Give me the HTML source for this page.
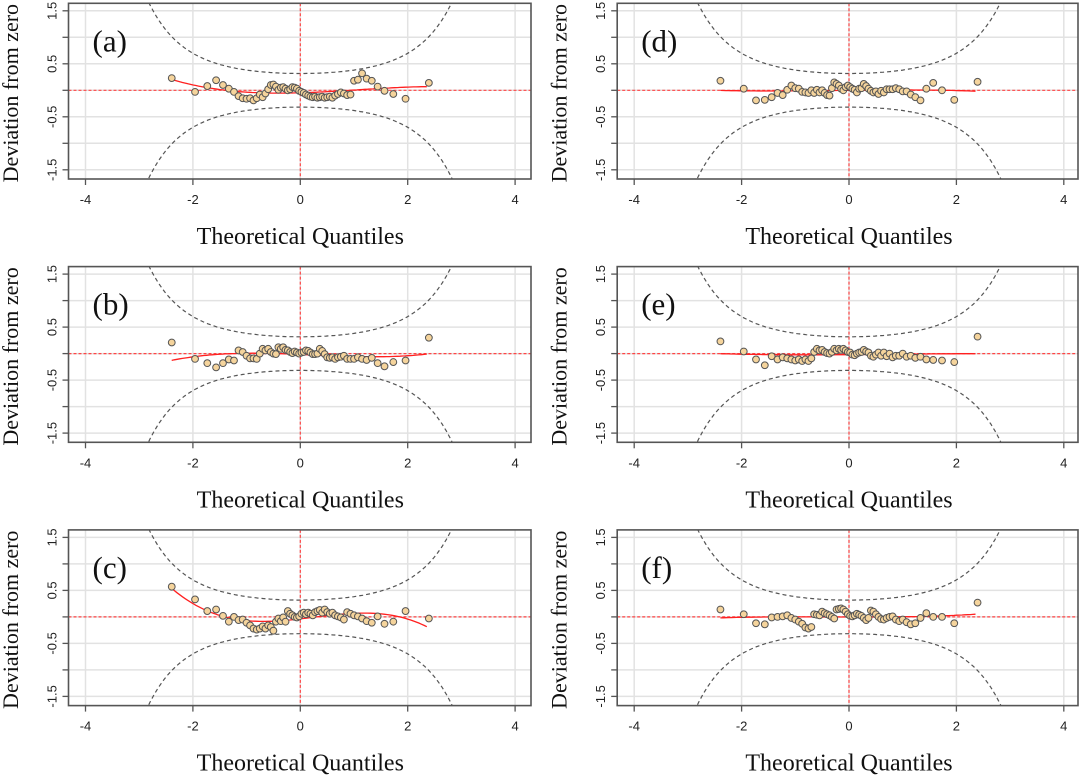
<!DOCTYPE html>
<html><head><meta charset="utf-8">
<style>
html,body{margin:0;padding:0;background:#fff;}
svg{display:block;}
</style></head>
<body>
<svg id="chart" width="1080" height="779" viewBox="0 0 1080 779" xmlns="http://www.w3.org/2000/svg"></svg>
<script>
// theoretical quantiles (n=60)
const qLeft = [-2.394,-1.960,-1.732,-1.568,-1.440,-1.331,-1.235,-1.150,-1.073,-1.001,-0.935,-0.872,-0.812,-0.755,-0.701,-0.649,-0.598,-0.549,-0.501,-0.454,-0.408,-0.363,-0.319,-0.275,-0.232,-0.189,-0.147,-0.105,-0.063,-0.021];
const panelLabels = ["(a)","(b)","(c)","(d)","(e)","(f)"];
const xTicks = [-4,-2,0,2,4];
const yGrid = [1.5,1,0.5,0,-0.5,-1,-1.5];
const yTickLabels = [1.5,0.5,-0.5,-1.5];
const devA = [0.23,-0.03,0.08,0.19,0.10,0.03,-0.03,-0.11,-0.15,-0.16,-0.15,-0.19,-0.15,-0.08,-0.13,-0.06,0.02,0.10,0.11,0.07,0.01,0.05,0.06,0.03,0.00,0.02,0.06,0.05,0.03,-0.01,
  -0.03,-0.05,-0.08,-0.10,-0.12,-0.13,-0.12,-0.14,-0.13,-0.12,-0.14,-0.13,-0.12,-0.14,-0.10,-0.07,-0.04,-0.06,-0.09,-0.08,0.18,0.20,0.32,0.22,0.18,0.07,-0.01,-0.07,-0.16,0.14];
const devB = [0.21,-0.10,-0.18,-0.26,-0.18,-0.11,-0.13,0.06,0.03,-0.04,-0.09,-0.09,-0.10,0,0.09,0.06,0.09,0.03,0,-0.01,0.12,0.09,0.12,0.07,0.06,0.03,0.01,0.04,0.02,0,
  0.02,0.03,0.06,0.05,0.02,-0.01,-0.01,0,0.09,0.05,-0.01,-0.07,-0.08,-0.07,-0.10,-0.07,-0.06,-0.04,-0.10,-0.10,-0.10,-0.07,-0.10,-0.12,-0.08,-0.18,-0.24,-0.16,-0.13,0.30];
const devC = [0.57,0.33,0.11,0.14,0.02,-0.09,0,-0.06,-0.05,-0.11,-0.16,-0.22,-0.24,-0.22,-0.18,-0.22,-0.16,-0.19,-0.26,-0.09,-0.03,-0.08,-0.01,-0.09,0.11,0.06,0.03,0,-0.01,0.01,
  0.06,0.08,0.05,0.08,0.06,0.03,0.09,0.11,0.13,0.08,0.14,0.09,0.06,0.08,0.03,0.01,-0.01,-0.05,0.09,0.06,0.03,0.01,-0.03,-0.08,-0.11,0.01,-0.13,-0.09,0.11,-0.03];
const devD = [0.18,0.03,-0.19,-0.18,-0.13,-0.05,-0.09,0.01,0.09,0.04,0.03,-0.03,-0.04,-0.05,0,-0.05,0.01,-0.04,0,-0.05,-0.09,-0.10,0.04,0.15,0.12,0.09,0.03,0,0.06,0.09,
  0.06,0.03,0.01,-0.04,0.03,0.04,0.12,0.08,0.03,-0.01,-0.04,-0.02,-0.07,-0.01,-0.04,0.02,0.02,0.02,0.04,0.02,-0.02,-0.02,-0.08,-0.13,-0.19,0.03,0.14,0.0,-0.18,0.16];
const devE = [0.23,0.04,-0.11,-0.22,-0.05,-0.11,-0.07,-0.09,-0.11,-0.13,-0.11,-0.14,-0.11,-0.14,-0.09,0.03,0.09,0.06,0.07,0.03,0.01,0,0.03,0.09,0.06,0.09,0.07,0.09,0.06,0.03,
  0.02,-0.02,-0.03,0.0,0.02,0.03,0.07,0.04,0.02,-0.04,-0.06,-0.02,0.02,-0.04,0.02,-0.05,0,-0.07,-0.04,-0.04,0,-0.06,-0.04,-0.08,-0.06,-0.11,-0.12,-0.13,-0.16,0.32];
const devF = [0.14,0.05,-0.12,-0.14,-0.01,0,0.01,0.03,-0.02,-0.05,-0.09,-0.13,-0.20,-0.22,-0.19,0.05,0.04,0.03,0.10,0.07,0.05,0.03,0,-0.03,0.14,0.15,0.16,0.14,0.10,0.05,
  0.02,0.01,0.03,0.06,0.04,0.02,-0.02,-0.06,-0.02,0.12,0.10,0.05,0,-0.04,-0.05,-0.02,0,0.01,-0.05,-0.08,-0.05,-0.10,-0.14,-0.12,-0.02,0.07,0,0.0,-0.12,0.27];
const devs = [devA,devB,devC,devD,devE,devF];
const nObs = 60;

const NS = "http://www.w3.org/2000/svg";
const svg = document.getElementById('chart');
function mk(tag, attrs, parent){
  const e = document.createElementNS(NS, tag);
  for (const k in attrs) e.setAttribute(k, attrs[k]);
  (parent||svg).appendChild(e);
  return e;
}
const qAll = qLeft.concat(qLeft.slice().reverse().map(v=>-v));

function erf(x){const t=1/(1+0.3275911*Math.abs(x));const y=1-(((((1.061405429*t-1.453152027)*t)+1.421413741)*t-0.284496736)*t+0.254829592)*t*Math.exp(-x*x);return x>=0?y:-y;}
function pnorm(z){return 0.5*(1+erf(z/Math.SQRT2));}
function dnorm(z){return Math.exp(-z*z/2)/Math.sqrt(2*Math.PI);}

function cubicFit(xs, ys){
  const n=4; const A=[]; for(let i=0;i<n;i++){A.push(new Array(n+1).fill(0));}
  xs.forEach((x,k)=>{for(let i=0;i<n;i++){for(let j=0;j<n;j++)A[i][j]+=Math.pow(x,i+j);A[i][n]+=ys[k]*Math.pow(x,i);}});
  for(let i=0;i<n;i++){let p=i;for(let r=i+1;r<n;r++)if(Math.abs(A[r][i])>Math.abs(A[p][i]))p=r;[A[i],A[p]]=[A[p],A[i]];
    for(let r=0;r<n;r++){if(r===i)continue;const f=A[r][i]/A[i][i];for(let c=i;c<=n;c++)A[r][c]-=f*A[i][c];}}
  return A.map((row,i)=>row[n]/row[i]);
}

function panel(idx){
  const col = idx<3?0:1, row = idx%3;
  const dx = col===0?0:548.7, dy = row*263.3;
  const L=68.5+dx, R=(col===0?531:1078), T=3.3+dy, B=179+dy;
  const x0 = 300.3+dx, ux = 53.7, y0 = 90.3+dy, uy = 53;
  const X = v=>x0+v*ux, Y = v=>y0-v*uy;
  const g = mk('g',{});
  
  
  const cid='clip'+idx;
  const cp = mk('clipPath',{id:cid},g); mk('rect',{x:L,y:T,width:R-L,height:B-T},cp);
  xTicks.forEach(t=>{const l=mk('line',{x1:X(t),x2:X(t),y1:T,y2:B,stroke:'#e2e2e2','stroke-width':1.5},g);
    });
  yGrid.forEach(t=>{const l=mk('line',{x1:L,x2:R,y1:Y(t),y2:Y(t),stroke:'#e2e2e2','stroke-width':1.5},g);
    });
  [1,-1].forEach(s=>{
    let d='';
    for(let z=-3.2;z<=3.2001;z+=0.04){const p=pnorm(z);const se=1.96*Math.sqrt(p*(1-p)/nObs)/dnorm(z);d+=(d?'L':'M')+X(z).toFixed(1)+','+Y(s*se).toFixed(1);}
    const pth=mk('path',{d:d,fill:'none',stroke:'#555','stroke-width':1.2,'stroke-dasharray':'4,3','clip-path':'url(#'+cid+')'},g);
    
    
  });
  const h=mk('line',{x1:L,x2:R,y1:Y(0),y2:Y(0),stroke:'#ff4545','stroke-width':1.2,'stroke-dasharray':'3,2'},g);
  
  const v=mk('line',{x1:X(0),x2:X(0),y1:T,y2:B,stroke:'#ff4545','stroke-width':1.2,'stroke-dasharray':'3,2'},g);
  
  const ys=devs[idx]; const c=cubicFit(qAll,ys);
  let d='';
  for(let z=qAll[0];z<=qAll[qAll.length-1]+1e-6;z+=0.05){const val=c[0]+c[1]*z+c[2]*z*z+c[3]*z*z*z;d+=(d?'L':'M')+X(z).toFixed(1)+','+Y(val).toFixed(1);}
  const fit=mk('path',{d:d,fill:'none',stroke:'#ff2020','stroke-width':1.3},g);
  
  qAll.forEach((q,i)=>{const pt=mk('circle',{cx:X(q),cy:Y(ys[i]),r:3.4,fill:'#f5d49c',stroke:'#555','stroke-width':1},g);
    });
  const bx=mk('rect',{x:L,y:T,width:R-L,height:B-T,fill:'none',stroke:'#555','stroke-width':1.6},g);
  
  xTicks.forEach(t=>{mk('line',{x1:X(t),x2:X(t),y1:B,y2:B+6,stroke:'#555','stroke-width':1.3},g);
    const tx=mk('text',{x:X(t),y:B+25,'text-anchor':'middle','font-family':'Liberation Sans, sans-serif','font-size':13,fill:'#222'},g);
    tx.textContent=String(t);});
  yGrid.forEach(t=>{mk('line',{x1:L-6,x2:L,y1:Y(t),y2:Y(t),stroke:'#555','stroke-width':1.3},g);});
  yTickLabels.forEach(t=>{const tx=mk('text',{x:0,y:0,'text-anchor':'middle','font-family':'Liberation Sans, sans-serif','font-size':13,fill:'#222',
      transform:'translate('+(L-12)+','+Y(t)+') rotate(-90)'},g);
    tx.textContent=String(t);});
  const xt=mk('text',{x:X(0),y:B+65,'text-anchor':'middle','font-family':'Liberation Serif, serif','font-size':24,fill:'#111'},g);
  xt.textContent='Theoretical Quantiles';
  const yt=mk('text',{x:0,y:0,'text-anchor':'middle','font-family':'Liberation Serif, serif','font-size':22,fill:'#111',
    transform:'translate('+(dx+18)+','+((T+B)/2+2)+') rotate(-90)'},g);
  yt.textContent='Deviation from zero';
  const pl=mk('text',{x:L+24,y:T+48,'font-family':'Liberation Serif, serif','font-size':31,fill:'#111'},g);
  pl.textContent=panelLabels[idx];
}
for(let i=0;i<6;i++) panel(i);
</script>
</body></html>
